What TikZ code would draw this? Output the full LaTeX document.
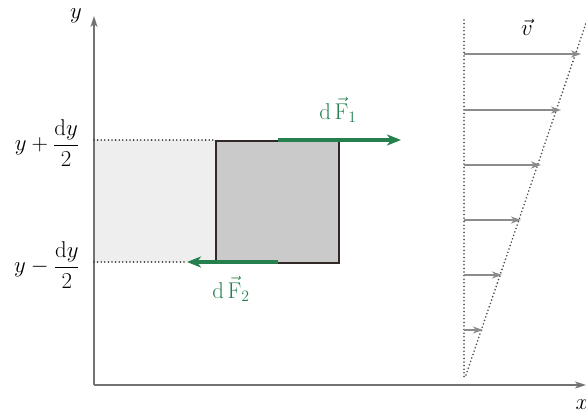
\documentclass[tikz,border=0pt]{standalone}
\usetikzlibrary{arrows.meta}
\definecolor{forcegreen}{RGB}{38,128,78}
\definecolor{axisgray}{RGB}{115,115,115}
\definecolor{vgray}{RGB}{140,140,140}
\definecolor{boxgray}{RGB}{202,202,202}
\definecolor{bandgray}{RGB}{238,238,238}
\definecolor{boxline}{RGB}{50,40,38}
\begin{document}
\begin{tikzpicture}[x=1pt,y=-1pt,
  axis/.style={draw=axisgray,line width=1.6pt,-{Stealth[length=11pt,width=7pt,inset=3pt]}},
  dotline/.style={draw=black!80,line width=1.8pt,line cap=round,dash pattern=on 0pt off 3.6pt},
  force/.style={draw=forcegreen,line width=3.6pt,-{Stealth[length=14pt,width=11pt,inset=4pt]}},
  vel/.style={draw=vgray,line width=1.8pt,-{Stealth[length=10pt,width=7pt,inset=3pt]}},
  lab/.style={font=\huge,scale=1.1,inner sep=1pt},
  element/.style={draw=boxline,fill=boxgray,line width=1.5pt,minimum width=123pt,minimum height=122pt,inner sep=0pt,anchor=north west}]
\useasboundingbox (0,0) rectangle (586,412);
% light band
\fill[bandgray] (94,140) rectangle (215,262);
% axes
\coordinate (o) at (94,385);
\coordinate (ytip) at (94,16);
\coordinate (xtip) at (586,385);
\draw[axis] (o) -- (ytip);
\draw[axis] (o) -- (xtip);
\node[lab] (ylab) at (76,16) {$y$};
\node[lab] (xlab) at (582,405) {$x$};
% fluid element
\node[element] (box) at (215,140) {};
% dotted guide lines
\coordinate (ya) at (94,140);
\coordinate (yb) at (94,262);
\coordinate (f2end) at (187,262);
\draw[dotline] (ya) -- (box.north west);
\draw[dotline] (yb) -- (f2end);
% y labels
\node[lab] (yplus) at (47,143) {$y+\displaystyle\frac{\mathrm{d}y}{2}$};
\node[lab] (yminus) at (47,265) {$y-\displaystyle\frac{\mathrm{d}y}{2}$};
% forces
\coordinate (f1start) at (278,140);
\coordinate (f1end) at (401,140);
\coordinate (f2start) at (278,262);
\draw[force] (f1start) -- (f1end);
\draw[force] (f2start) -- (f2end);
\node[lab,text=forcegreen] (f1lab) at (338,110) {$\mathrm{d}\,\vec{\mathrm{F}}_1$};
\node[lab,text=forcegreen] (f2lab) at (231,289) {$\mathrm{d}\,\vec{\mathrm{F}}_2$};
% velocity profile
\coordinate (vtop) at (464,20);
\coordinate (vbot) at (464,378);
\coordinate (sbot) at (466,375);
\coordinate (stop) at (586,23);
\draw[dotline,draw=black!70] (vtop) -- (vbot);
\draw[dotline,draw=black!70] (sbot) -- (stop);
\foreach \yy/\xx [count=\i] in {54/581,110/561,165/541,220/521,275/502,330/483}{
  \coordinate (vs\i) at (464,\yy);
  \coordinate (ve\i) at (\xx,\yy);
  \draw[vel] (vs\i) -- (ve\i);
}
\node[lab] (vlab) at (527,27) {$\vec{v}$};
\end{tikzpicture}
\end{document}
